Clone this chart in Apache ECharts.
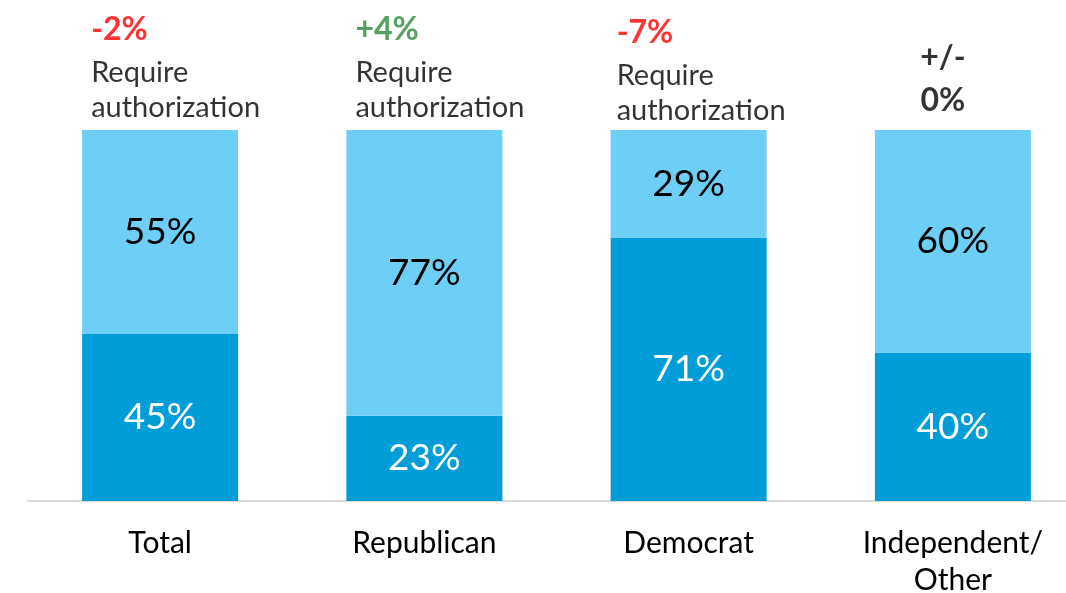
<!DOCTYPE html>
<html>
<head>
<meta charset="utf-8">
<script src="https://cdn.jsdelivr.net/npm/echarts@6/dist/echarts.min.js"></script>
<style>html,body{margin:0;padding:0;background:#fff;}#c{width:1066px;height:593px;}</style>
</head>
<body>
<div id="c"></div>
<script>
var categories = ['Total', 'Republican', 'Democrat', 'Independent/\nOther'];
var notRequire = [45, 23, 71, 40];
var requireAuth = [55, 77, 29, 60];
var changes = ['-2%', '+4%', '-7%', '+/-\n0%'];
var changeKinds = ['neg', 'pos', 'neg', 'flat'];
var noteText = 'Require\nauthorization';

var FONT = 'Lato, "Open Sans", sans-serif';
var chart = echarts.init(document.getElementById('c'), null, {renderer: 'canvas'});

var annotData = categories.map(function (c, i) {
  var total = notRequire[i] + requireAuth[i];
  var kind = changeKinds[i];
  var item = {value: total};
  if (kind === 'flat') {
    item.label = {
      align: 'center',
      offset: [-10, 0],
      distance: 8,
      formatter: changes[i].split('\n').map(function (s) { return '{blk|' + s + '}'; }).join('\n')
    };
  } else {
    item.label = {
      align: 'left',
      offset: [i === 2 ? -72 : -69, 0],
      distance: i === 2 ? 2 : 5,
      formatter: '{' + kind + '|' + changes[i] + '}\n' +
        noteText.split('\n').map(function (s) { return '{txt|' + s + '}'; }).join('\n')
    };
  }
  return item;
});

var option = {
  animation: false,
  backgroundColor: '#ffffff',
  grid: {left: 28, right: -19, top: 130, bottom: 92, containLabel: false, outerBoundsMode: 'none'},
  xAxis: {
    type: 'category',
    data: categories,
    axisLine: {show: true, lineStyle: {color: '#d9d9d9', width: 2}},
    axisTick: {show: false},
    axisLabel: {
      color: '#000', fontFamily: FONT, fontSize: 30, margin: 24, lineHeight: 37,
      interval: 0
    },
    splitLine: {show: false}
  },
  yAxis: {
    type: 'value', min: 0, max: 100,
    show: false,
    splitLine: {show: false}
  },
  series: [
    {
      name: 'Do not require',
      type: 'bar',
      stack: 'a',
      barWidth: 156,
      data: notRequire,
      itemStyle: {color: '#009dd9'},
      label: {
        show: true, position: 'inside', color: '#ffffff',
        fontFamily: FONT, fontSize: 37,
        formatter: function (p) { return p.value + '%'; }
      }
    },
    {
      name: 'Require authorization',
      type: 'bar',
      stack: 'a',
      barWidth: 156,
      data: requireAuth,
      itemStyle: {color: '#6dcff6'},
      label: {
        show: true, position: 'inside', color: '#000000',
        fontFamily: FONT, fontSize: 37,
        formatter: function (p) { return p.value + '%'; }
      }
    },
    {
      name: 'Change',
      type: 'scatter',
      symbolSize: 0,
      data: annotData,
      z: 10,
      label: {
        show: true,
        position: 'top',
        fontFamily: FONT,
        rich: {
          neg: {color: '#ff0000', fontWeight: 'bold', fontSize: 32, lineHeight: 50, fontFamily: FONT},
          pos: {color: '#2a8a3a', fontWeight: 'bold', fontSize: 32, lineHeight: 50, fontFamily: FONT},
          txt: {color: '#000000', fontSize: 29, lineHeight: 35, fontFamily: FONT},
          blk: {color: '#000000', fontWeight: 'bold', fontSize: 32, lineHeight: 43, fontFamily: FONT, align: 'center'}
        }
      }
    }
  ]
};
chart.setOption(option);
</script>
</body>
</html>
